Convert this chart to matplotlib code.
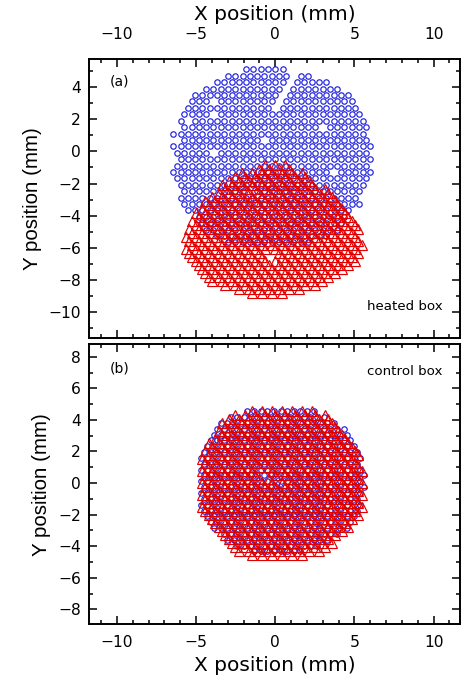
import numpy as np
import matplotlib
matplotlib.use("Agg")
import matplotlib.pyplot as plt
from matplotlib.ticker import MultipleLocator

# the source picture is a bit wider than tall, DejaVu gives the wider letters
plt.rcParams['font.family'] = ['DejaVu Sans']
plt.rcParams['axes.unicode_minus'] = True

# Marker maps, one string per row of markers.
# 'o' = a marker sits there, '.' = empty.
# circle rows alternate a half step, triangle rows walk a third step each row.

# (a) heated box - circles
heated_blue_y = [5.12, 4.72, 4.32, 3.92, 3.52, 3.12, 2.72, 2.32, 1.92, 1.52,
                 1.12, 0.72, 0.32, -0.08, -0.48, -0.88, -1.28, -1.68, -2.08,
                 -2.48, -2.88, -3.28, -3.68, -4.08, -4.48, -4.88, -5.28, -5.68]
heated_blue_rows = [
    "..........oooooo............",
    ".......ooooooooo.oo.........",
    "......oooooooooo.ooooo......",
    "....ooooooooooo.ooooooo.....",
    "...oooooooooooo.ooooooooo...",
    "..ooo.oooooooo.oooooooooo...",
    "..oooooooooooo.ooooooooooo..",
    ".oooo.oooooooooooooooooooo..",
    ".o.oooooooooooooooooooooooo.",
    ".ooooooooooooooooooo.oooooo.",
    "ooooooooooooooooooooooooooo.",
    ".ooooooooooo.oooooooooooooo.",
    "oooooooooooooooooooooooooooo",
    "ooooo.ooooooooooooooooooooo.",
    ".ooooooooooooooooooooooooooo",
    "ooooooooooooooooooooooooooo.",
    "oooooooooooooooooooooo.ooooo",
    "ooooooooooooooooooooooooooo.",
    ".oooooooooooooooooooooooooo.",
    ".ooooooooo.ooooooooooooooo..",
    ".ooooooooooooooooooooooooo..",
    ".ooooooooooooooooooooooooo..",
    "..ooooooooooooooooooooooo...",
    "...ooooooooooooooooooooo....",
    "....oooooooooooooooooooo....",
    "....ooooooooooooooooooo.....",
    "......oooooooooooooooo......",
    ".......oooooooooooo.........",
]
heated_blue_x0, heated_blue_dx = -6.44, 0.46

# (a) heated box - triangles
heated_red_y = [-0.85, -1.10, -1.35, -1.60, -1.85, -2.10, -2.35, -2.60, -2.85,
                -3.10, -3.35, -3.60, -3.85, -4.10, -4.35, -4.60, -4.85, -5.10,
                -5.35, -5.60, -5.85, -6.10, -6.35, -6.60, -6.85, -7.10, -7.35,
                -7.60, -7.85, -8.10, -8.35, -8.60, -8.85]
heated_red_rows = [
    "........ooo........",
    ".......oooo........",
    ".....ooooooo.......",
    ".....oooooooo......",
    "....ooooooooo......",
    "...oooooooooo......",
    "....ooooooooooo....",
    "...oooooooooooo....",
    "..ooooooooooooo....",
    "..oooooooooooooo...",
    "..oooooooooooooo...",
    ".ooooooooooooooo...",
    ".oooooooooooooooo..",
    ".oooooooooooooooo..",
    "ooooooooooooooooo..",
    ".ooooooooooooooooo.",
    "oooooooooooooooooo.",
    "ooooooooooooooooo..",
    "oooooooooooooooooo.",
    "oooooooooooooooooo.",
    "oooooooooooooooooo.",
    "oooooooooooooooooo.",
    "oooooooo.ooooooooo.",
    "oooooooo.oooooooo..",
    ".ooooooooooooooooo.",
    ".oooooooooooooooo..",
    ".ooooooooooooooo...",
    "..oooooooooooooo...",
    "..ooooooooooooo....",
    "..oooooooooooo.....",
    "....oooooooooo.....",
    ".....ooooooo.......",
    "......oooo.........",
]
heated_red_x0, heated_red_dx = -5.67, 0.63

# (b) control box - circles
control_blue_y = [4.55, 4.18, 3.81, 3.44, 3.07, 2.70, 2.33, 1.96, 1.59, 1.22,
                  0.85, 0.48, 0.11, -0.26, -0.63, -1.00, -1.37, -1.74, -2.11,
                  -2.48, -2.85, -3.22, -3.59, -3.96, -4.33]
control_blue_rows = [
    ".......ooooooooooo.......",
    "....ooooooooooooooo......",
    "...oooooooooooooooooo....",
    "..oooooooooooooooooooo...",
    "..ooooooooooooooooooooo..",
    ".oooooooooooooooooooooo..",
    ".ooooooooooooooooooooooo.",
    "oooooooooooooooooooooooo.",
    "ooooooooooooooooooooooooo",
    "oooooooooooooooooooooooo.",
    "ooooooooooooooooooooooooo",
    "ooooooooooooooooooooooooo",
    "ooooooooooooooooooooooooo",
    "ooooooooooooooooooooooooo",
    "ooooooooooooooooooooooooo",
    "oooooooooooooooooooooooo.",
    "ooooooooooooooooooooooooo",
    "oooooooooooooooooooooooo.",
    ".ooooooooooooooooooooooo.",
    ".oooooooooooooooooooooo..",
    "..ooooooooooooooooooooo..",
    "...oooooooooooooooooo....",
    "....oooooooooooooooo.....",
    ".....ooooooooooooo.......",
    "........oooooooo.........",
]
control_blue_x0, control_blue_dx = -4.71, 0.42

# (b) control box - triangles
control_red_y = [4.57, 4.32, 4.06, 3.81, 3.56, 3.30, 3.05, 2.80, 2.54, 2.29,
                 2.04, 1.78, 1.53, 1.28, 1.02, 0.77, 0.52, 0.26, 0.01, -0.24,
                 -0.50, -0.75, -1.00, -1.26, -1.51, -1.76, -2.02, -2.27, -2.52,
                 -2.78, -3.03, -3.28, -3.54, -3.79, -4.04, -4.30, -4.55]
control_red_rows = [
    ".....ooooooo.....",
    "...oooooooooo....",
    "..ooooooooooo....",
    "..oooooooooooo...",
    "..oooooooooooo...",
    ".ooooooooooooo...",
    "..ooooooooooooo..",
    ".oooooooooooooo..",
    "ooooooooooooooo..",
    ".ooooooooooooooo.",
    "oooooooooooooooo.",
    "oooooooooooooooo.",
    "oooooooooooooooo.",
    "oooooooooooooooo.",
    "oooooooooooooooo.",
    "oooooo.oooooooooo",
    "oooooo.ooooooooo.",
    "ooooooo.oooooooo.",
    "ooooooooooooooooo",
    "oooooooooooooooo.",
    "oooooooooooooooo.",
    "ooooooooooooooooo",
    "oooooooooooooooo.",
    "oooooooooooooooo.",
    "ooooooooooooooooo",
    "oooooooooooooooo.",
    "oooooooooooooooo.",
    ".ooooooooooooooo.",
    ".oooooooooooooo..",
    ".oooooooooooooo..",
    "..ooooooooooooo..",
    "..oooooooooooo...",
    "..ooooooooooo....",
    "...ooooooooooo...",
    "...oooooooooo....",
    "...ooooooooo.....",
    ".....oooooo......",
]
control_red_x0, control_red_dx = -4.62, 0.63


def cloud(rows, ys, x0, dx, phases):
    xs, yv = [], []
    for j, (row, y) in enumerate(zip(rows, ys)):
        shift = (j % phases) * dx / phases
        for i, ch in enumerate(row):
            if ch == 'o':
                xs.append(x0 + shift + i * dx)
                yv.append(y)
    return np.array(xs), np.array(yv)


blue = '#1f1fe0'
red = '#e00000'

fig = plt.figure(figsize=(4.63, 6.86), dpi=100)
ax1 = fig.add_axes([89.3 / 463, (686 - 338.3) / 686, 371.2 / 463, 279.3 / 686])
ax2 = fig.add_axes([89.3 / 463, (686 - 624.3) / 686, 371.2 / 463, 280.0 / 686])

panels = [
    (ax1, (heated_blue_rows, heated_blue_y, heated_blue_x0, heated_blue_dx, 2),
     (heated_red_rows, heated_red_y, heated_red_x0, heated_red_dx, 3)),
    (ax2, (control_blue_rows, control_blue_y, control_blue_x0, control_blue_dx, 2),
     (control_red_rows, control_red_y, control_red_x0, control_red_dx, 3)),
]
for ax, b, r in panels:
    bx, by = cloud(*b)
    rx, ry = cloud(*r)
    ax.plot(bx, by, linestyle='none', marker='o', markersize=3.9,
            markerfacecolor='none', markeredgecolor=blue, markeredgewidth=0.85)
    ax.plot(rx, ry, linestyle='none', marker='^', markersize=7.3,
            markerfacecolor='none', markeredgecolor=red, markeredgewidth=0.85)

for ax in (ax1, ax2):
    ax.set_xlim(-11.75, 11.7)
    ax.xaxis.set_major_locator(MultipleLocator(5))
    ax.xaxis.set_minor_locator(MultipleLocator(1))
    ax.yaxis.set_major_locator(MultipleLocator(2))
    ax.yaxis.set_minor_locator(MultipleLocator(1))
    ax.tick_params(which='both', direction='in', top=True, right=True,
                   width=1.1, labelsize=11.2)
    ax.tick_params(which='major', length=5.5)
    ax.tick_params(which='minor', length=3)
    ax.tick_params(axis='y', pad=6)
    for s in ax.spines.values():
        s.set_linewidth(1.4)
    ax.set_ylabel('Y position (mm)', fontsize=14.8, labelpad=5,
                  family=['Liberation Sans', 'DejaVu Sans'])

ax1.set_ylim(-11.66, 5.77)
ax1.tick_params(axis='x', labeltop=True, labelbottom=False, pad=12)
ax1.xaxis.set_label_position('top')
ax1.set_xlabel('X position (mm)', fontsize=14.5, labelpad=5)
ax1.text(0.056, 0.918, '(a)', transform=ax1.transAxes, fontsize=10,
         ha='left', va='center')
ax1.text(0.952, 0.113, 'heated box', transform=ax1.transAxes, fontsize=9.6,
         ha='right', va='center')

ax2.set_ylim(-8.95, 8.79)
ax2.tick_params(axis='x', pad=8)
ax2.set_xlabel('X position (mm)', fontsize=14.5, labelpad=4)
ax2.text(0.056, 0.915, '(b)', transform=ax2.transAxes, fontsize=10,
         ha='left', va='center')
ax2.text(0.952, 0.902, 'control box', transform=ax2.transAxes, fontsize=9.6,
         ha='right', va='center')

fig.savefig('out.png', dpi=100)
